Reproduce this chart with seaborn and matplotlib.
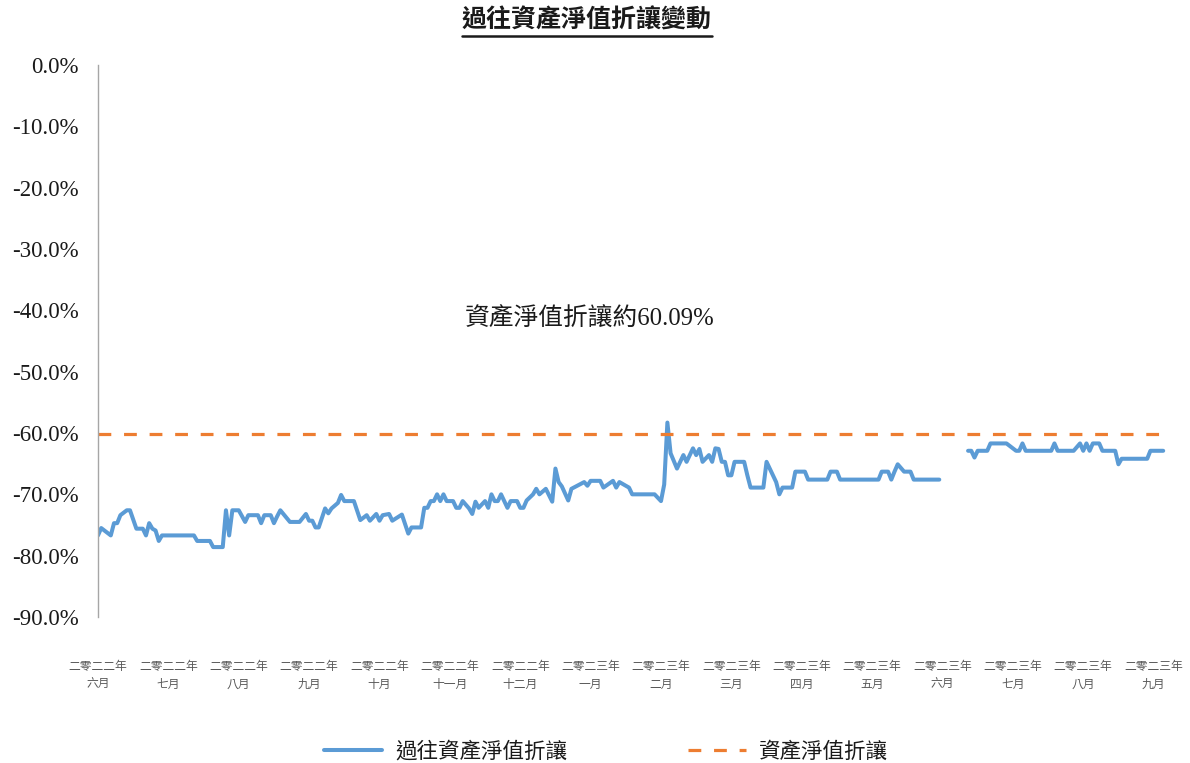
import matplotlib
matplotlib.use("Agg")
import matplotlib.pyplot as plt
import seaborn as sns
import pandas as pd
from matplotlib.ticker import FuncFormatter, FixedLocator
from matplotlib.lines import Line2D

# ---------------- data ----------------
title = "過往資產淨值折讓變動"
series_name = "過往資產淨值折讓"
ref_name = "資產淨值折讓"
annotation = "資產淨值折讓約60.09%"
nav_discount = -60.09

# trading-day index and discount (%) - first segment
seg1_days = [0, 1, 4, 5, 6, 7, 9, 10, 12, 14, 15, 16, 17, 18, 19, 20,
             30, 31, 35, 36, 39, 40, 41, 42, 44, 46, 47, 50, 51, 52, 54, 55,
             56, 57, 60, 63, 65, 66, 67, 68, 69, 71, 72, 73, 75, 76, 77, 80,
             82, 84, 85, 87, 88, 89, 91, 92, 95, 97, 98, 101, 102, 103, 104, 105,
             106, 107, 108, 109, 111, 112, 113, 114, 116, 117, 118, 119, 121, 122, 123, 124,
             125, 126, 128, 129, 131, 132, 133, 134, 136, 137, 138, 140, 142, 143, 144, 145,
             147, 148, 152, 153, 154, 157, 158, 161, 162, 163, 166, 167, 174, 176, 177, 178,
             179, 181, 182, 183, 184, 186, 187, 188, 189, 191, 192, 193, 194, 195, 196, 197,
             198, 199, 202, 203, 204, 208, 209, 211, 212, 213, 214, 217, 218, 221, 222, 228,
             229, 231, 232, 244, 245, 247, 248, 249, 250, 252, 254, 255, 263]
seg1_vals = [-76.7, -75.5, -76.7, -74.7, -74.7, -73.4, -72.6, -72.6, -75.6, -75.6, -76.7, -74.7, -75.6, -75.9, -77.6, -76.7,
             -76.7, -77.6, -77.6, -78.6, -78.6, -72.6, -76.7, -72.6, -72.6, -74.5, -73.4, -73.4, -74.7, -73.4, -73.4, -74.7,
             -73.6, -72.6, -74.5, -74.5, -73.2, -74.3, -74.3, -75.4, -75.4, -72.3, -73.1, -72.3, -71.4, -70.1, -71.1, -71.1,
             -74.2, -73.4, -74.3, -73.2, -74.3, -73.4, -73.2, -74.3, -73.3, -76.4, -75.4, -75.4, -72.2, -72.2, -71.1, -71.1,
             -70.0, -71.1, -70.0, -71.1, -71.1, -72.2, -72.2, -71.1, -72.3, -73.2, -71.2, -72.2, -71.1, -72.2, -70.0, -71.1,
             -71.1, -70.0, -72.2, -71.1, -71.1, -72.2, -72.2, -71.0, -70.0, -69.1, -70.0, -69.1, -71.2, -65.8, -68.0, -68.7,
             -71.0, -69.1, -68.0, -68.6, -67.8, -67.8, -68.9, -67.8, -68.9, -68.0, -68.9, -70.0, -70.0, -71.1, -68.4, -58.3,
             -63.3, -65.8, -64.7, -63.6, -64.7, -62.5, -63.6, -62.6, -64.7, -63.6, -64.7, -62.5, -62.6, -64.7, -64.7, -66.9,
             -66.9, -64.7, -64.7, -66.9, -68.9, -68.9, -64.7, -66.9, -68.0, -70.0, -68.9, -68.9, -66.3, -66.3, -67.6, -67.6,
             -66.3, -66.3, -67.6, -67.6, -66.3, -66.3, -67.6, -66.3, -65.1, -66.3, -66.3, -67.6, -67.6]

# second segment (after the data gap)
seg2_days = [272, 273, 274, 275, 278, 279, 284, 287, 288, 289, 290, 298, 299, 300,
             305, 307, 308, 309, 310, 311, 313, 314, 318, 319, 320, 328, 329, 333]
seg2_vals = [-62.9, -62.9, -64.0, -62.9, -62.9, -61.7, -61.7, -62.9, -62.9, -61.7, -62.9, -62.9, -61.7, -62.9,
             -62.9, -61.7, -62.9, -61.7, -62.9, -61.7, -61.7, -62.9, -62.9, -65.1, -64.2, -64.2, -62.9, -62.9]

tick_days = [0, 22, 44, 66, 88, 110, 132, 154, 176, 198, 220, 242, 264, 286, 308, 330]
tick_labels = ["二零二二年\n六月", "二零二二年\n七月", "二零二二年\n八月", "二零二二年\n九月",
               "二零二二年\n十月", "二零二二年\n十一月", "二零二二年\n十二月", "二零二三年\n一月",
               "二零二三年\n二月", "二零二三年\n三月", "二零二三年\n四月", "二零二三年\n五月",
               "二零二三年\n六月", "二零二三年\n七月", "二零二三年\n八月", "二零二三年\n九月"]
y_ticks = [0, -10, -20, -30, -40, -50, -60, -70, -80, -90]

assert len(seg1_days) == len(seg1_vals)
assert len(seg2_days) == len(seg2_vals)

df = pd.concat([
    pd.DataFrame({"day": seg1_days, "val": seg1_vals, "seg": 1}),
    pd.DataFrame({"day": seg2_days, "val": seg2_vals, "seg": 2}),
], ignore_index=True)

# ---------------- style ----------------
sns.set_theme(style="white")
cjk = "Noto Sans CJK TC"
plt.rcParams["font.family"] = ["Liberation Serif", cjk, "DejaVu Sans"]

BLUE = "#5B9BD5"
ORANGE = "#ED7D31"

fig = plt.figure(figsize=(11.9, 7.63), dpi=100)
ax = fig.add_axes([98 / 1190, 1 - 617 / 763, (1168 - 98) / 1190, (617 - 65) / 763])

sns.lineplot(data=df, x="day", y="val", units="seg", estimator=None,
             color=BLUE, linewidth=2.9, ax=ax, label=series_name, legend=False)
ax.axhline(nav_discount, color=ORANGE, linewidth=2.3, linestyle=(0, (4, 4)),
           dash_capstyle="butt", label=ref_name)

ax.set_xlim(0, 334.5)
ax.set_ylim(-90, 0)
ax.set_xlabel("")
ax.set_ylabel("")

ax.yaxis.set_major_locator(FixedLocator(y_ticks))
ax.yaxis.set_major_formatter(FuncFormatter(lambda v, p: f"{v:.1f}%"))
ax.xaxis.set_major_locator(FixedLocator(tick_days))
ax.set_xticklabels(tick_labels, family=[cjk], fontsize=8.5, color="#595959",
                   linespacing=1.5)
for t in ax.get_yticklabels():
    t.set_fontsize(16.5)
    t.set_color("#1a1a1a")
ax.tick_params(axis="y", length=0, pad=14)
ax.tick_params(axis="x", length=0, pad=31)

for s in ["top", "right", "bottom"]:
    ax.spines[s].set_visible(False)
ax.spines["left"].set_color("#A6A6A6")
ax.spines["left"].set_linewidth(1.0)
ax.grid(False)

# annotation
ax.text(590 / 1190, 1 - 318 / 763, annotation, transform=fig.transFigure,
        ha="center", va="center", fontsize=17.8, color="#1a1a1a",
        family=["Liberation Serif", cjk])

# title with underline
ttl = fig.text(587 / 1190, 1 - 20 / 763, title, ha="center", va="center",
               fontsize=18, fontweight="bold", family=[cjk], color="#1a1a1a")
fig.add_artist(Line2D([462 / 1190, 712 / 1190], [1 - 36 / 763, 1 - 36 / 763],
                      transform=fig.transFigure, color="#1a1a1a", linewidth=1.8))

# legend
handles = [Line2D([], [], color=BLUE, linewidth=2.9),
           Line2D([], [], color=ORANGE, linewidth=2.3, linestyle=(0, (4, 4)))]
leg = fig.legend(handles, [series_name, ref_name], loc="center",
                 bbox_to_anchor=(606 / 1190, 1 - 752 / 763), ncol=2, frameon=False,
                 prop={"family": [cjk], "size": 15.5}, handlelength=2.7,
                 columnspacing=5.6, handletextpad=0.6)
for t in leg.get_texts():
    t.set_color("#1a1a1a")

fig.savefig("out.png", dpi=100)
